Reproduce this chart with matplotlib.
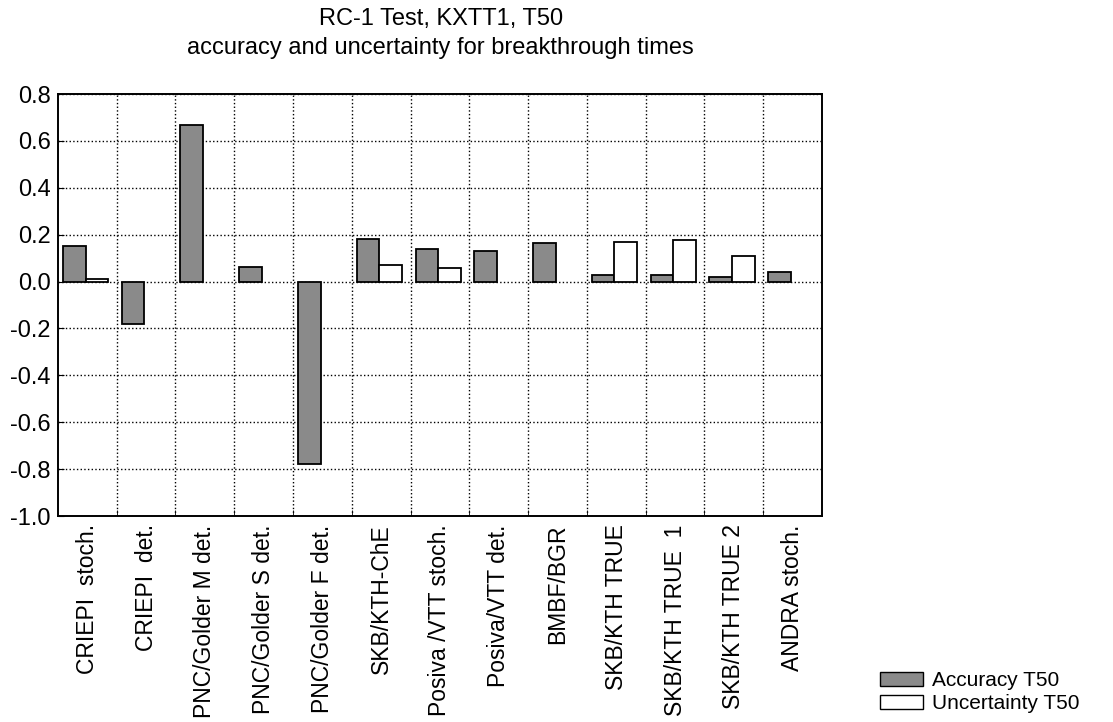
import matplotlib
matplotlib.use("Agg")
import matplotlib.pyplot as plt
import numpy as np
from matplotlib.patches import Patch

plt.rcParams.update({
    "font.family": ["Liberation Sans", "DejaVu Sans"],
    "font.size": 17,
})

categories = ["CRIEPI  stoch.", "CRIEPI  det.", "PNC/Golder M det.", "PNC/Golder S det.",
              "PNC/Golder F det.", "SKB/KTH-ChE", "Posiva /VTT stoch.", "Posiva/VTT det.",
              "BMBF/BGR", "SKB/KTH TRUE", "SKB/KTH TRUE  1", "SKB/KTH TRUE 2", "ANDRA stoch."]
accuracy = [0.15, -0.18, 0.667, 0.06, -0.78, 0.18, 0.14, 0.13, 0.163, 0.027, 0.027, 0.018, 0.04]
uncertainty = [0.01, 0.0, 0.0, 0.0, 0.0, 0.072, 0.057, 0.0, 0.0, 0.167, 0.177, 0.11, 0.0]
yticks = [-1.0, -0.8, -0.6, -0.4, -0.2, 0.0, 0.2, 0.4, 0.6, 0.8]

fig = plt.figure(figsize=(11.13, 7.22), dpi=100)
ax = fig.add_axes([0.052, 0.2853, 0.6865, 0.5845])

x = np.arange(len(categories))
w = 0.385
acc_color = "#8a8a8a"
ax.bar(x - w / 2 - 0.03, accuracy, w, color=acc_color, edgecolor="black", linewidth=1.3, zorder=3)
unc = np.array(uncertainty)
mask = unc > 0
ax.bar(x[mask] + w / 2 - 0.03, unc[mask], w, color="white", edgecolor="black", linewidth=1.3, zorder=3)

ax.set_xlim(-0.5, len(categories) - 0.5)
ax.set_ylim(-1.0, 0.8)
ax.set_yticks(yticks)
ax.set_yticklabels([f"{v:.1f}" for v in yticks])

ax.set_xticks(x)
ax.set_xticklabels(categories, rotation=90, fontsize=16.5)
ax.tick_params(axis="x", which="major", length=0, pad=6)
ax.set_xticks(np.arange(0.5, len(categories) - 0.5, 1), minor=True)
ax.tick_params(axis="x", which="minor", direction="in", length=4)
ax.tick_params(axis="y", direction="in", length=4, pad=5)

ax.grid(True, which="minor", axis="x", linestyle=":", color="black", linewidth=1.0)
ax.grid(True, which="major", axis="y", linestyle=":", color="black", linewidth=1.0)
ax.set_axisbelow(True)
for s in ax.spines.values():
    s.set_linewidth(1.4)

fig.text(0.396, 0.973, "RC-1 Test, KXTT1, T50", ha="center", va="center")
fig.text(0.396, 0.933, "accuracy and uncertainty for breakthrough times", ha="center", va="center")

handles = [Patch(facecolor=acc_color, edgecolor="black", label="Accuracy T50"),
           Patch(facecolor="white", edgecolor="black", label="Uncertainty T50")]
fig.legend(handles=handles, loc="lower left", bbox_to_anchor=(0.774, -0.014), frameon=False,
           fontsize=15, handlelength=2.07, handleheight=0.6, handletextpad=0.43, labelspacing=0.19)

fig.savefig("out.png", dpi=100)
